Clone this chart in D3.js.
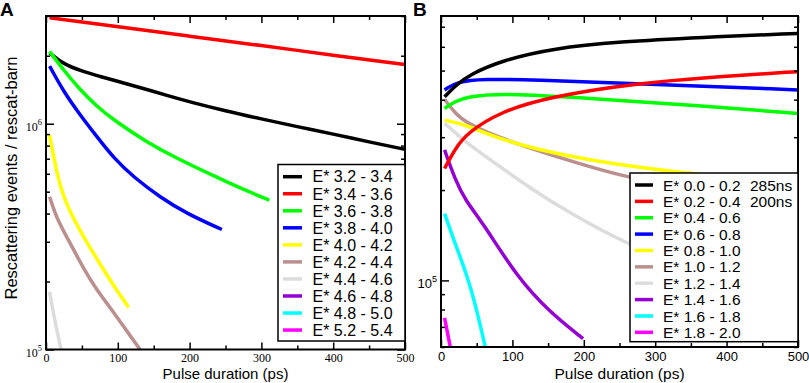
<!DOCTYPE html>
<html>
<head>
<meta charset="utf-8">
<script src="https://cdn.jsdelivr.net/npm/d3@7"></script>
<style>
  body { margin: 0; background: #fff; }
</style>
</head>
<body>
<script>
// ---- data ----
// panel A: pulse duration (ps) vs rescattering events
const a32 = [[5, 2.06e6], [25, 1.83e6], [50, 1.71e6], [75, 1.62e6], [100, 1.54e6], [130, 1.45e6], [170, 1.33e6], [200, 1.25e6], [250, 1.14e6], [300, 1.05e6], [350, 0.97e6], [400, 0.9e6], [450, 0.83e6], [500, 0.77e6]]
const a34 = [[5, 2.95e6], [100, 2.69e6], [200, 2.44e6], [300, 2.22e6], [400, 2.01e6], [500, 1.83e6]]
const a36 = [[5, 2.09e6], [25, 1.72e6], [47, 1.42e6], [70, 1.2e6], [94, 1.04e6], [140, 8.3e5], [180, 7.08e5], [233, 5.89e5], [270, 5.19e5], [311, 4.59e5]]
const a38 = [[5, 1.8e6], [25, 1.38e6], [47, 1.1e6], [68, 9.0e5], [95, 7.0e5], [122, 5.8e5], [160, 4.7e5], [196, 4.0e5], [245, 3.4e5]]
const a40 = [[5, 8.9e5], [12, 6.76e5], [20, 5.25e5], [30, 4.27e5], [52, 3.16e5], [75, 2.4e5], [95, 1.9e5], [115, 1.54e5]]
const a42 = [[5, 4.75e5], [15, 3.8e5], [29, 3.15e5], [52, 2.29e5], [70, 1.85e5], [89, 1.54e5], [110, 1.24e5], [131, 1.0e5]]
const a44 = [[5, 1.8e5], [12, 1.35e5], [21, 1.0e5]]
const a46 = []
const a48 = []
const a52 = []
const seriesA = [a32, a34, a36, a38, a40, a42, a44, a46, a48, a52]
const labelsA = ['E* 3.2 - 3.4', 'E* 3.4 - 3.6', 'E* 3.6 - 3.8', 'E* 3.8 - 4.0', 'E* 4.0 - 4.2', 'E* 4.2 - 4.4', 'E* 4.4 - 4.6', 'E* 4.6 - 4.8', 'E* 4.8 - 5.0', 'E* 5.2 - 5.4']

// panel B
const b00 = [[5, 4.09e5], [20, 4.45e5], [40, 4.85e5], [87, 5.42e5], [157, 5.93e5], [250, 6.24e5], [363, 6.45e5], [500, 6.65e5]]
const b02 = [[5, 2.36e5], [20, 2.75e5], [36, 3.09e5], [83, 3.65e5], [153, 4.09e5], [269, 4.53e5], [400, 4.8e5], [500, 4.96e5]]
const b04 = [[5, 3.74e5], [20, 3.95e5], [36, 4.09e5], [83, 4.2e5], [176, 4.09e5], [316, 3.89e5], [500, 3.6e5]]
const b06 = [[5, 4.31e5], [22, 4.59e5], [59, 4.69e5], [129, 4.66e5], [269, 4.53e5], [500, 4.31e5]]
const b08 = [[5, 3.42e5], [36, 3.3e5], [83, 2.94e5], [176, 2.58e5], [316, 2.3e5], [500, 2.1e5]]
const b10 = [[5, 4.01e5], [20, 3.6e5], [36, 3.34e5], [83, 2.97e5], [176, 2.52e5], [269, 2.16e5], [400, 1.95e5], [500, 1.8e5]]
const b12 = [[5, 3.34e5], [36, 2.86e5], [83, 2.39e5], [129, 2.0e5], [176, 1.7e5], [265, 1.3e5], [350, 1.1e5], [500, 0.88e5]]
const b14 = [[5, 2.72e5], [20, 2.16e5], [34, 1.85e5], [59, 1.55e5], [106, 1.03e5], [153, 7.8e4], [199, 6.4e4]]
const b16 = [[5, 1.67e5], [20, 1.32e5], [36, 1.05e5], [50, 8.0e4], [62, 6.0e4]]
const b18 = [[5, 7.5e4], [13, 6.0e4]]
const seriesB = [b00, b02, b04, b06, b08, b10, b12, b14, b16, b18]
const labelsB = ['E* 0.0 - 0.2', 'E* 0.2 - 0.4', 'E* 0.4 - 0.6', 'E* 0.6 - 0.8', 'E* 0.8 - 1.0', 'E* 1.0 - 1.2', 'E* 1.2 - 1.4', 'E* 1.4 - 1.6', 'E* 1.6 - 1.8', 'E* 1.8 - 2.0']
const notesB = ['285ns', '200ns', '', '', '', '', '', '', '', '']

const colors = ['#000000', '#ff0000', '#00ff00', '#0000ff', '#ffff00', '#bc8f8f', '#dcdcdc', '#9400d3', '#00ffff', '#ff00ff']
const xTicks = [0, 100, 200, 300, 400, 500]
const xMinor = [50, 150, 250, 350, 450]

const sans = 'Liberation Sans, Arial, sans-serif'
const serif = 'Liberation Serif, Times New Roman, serif'

const svg = d3.select('body').append('svg')
  .attr('width', 809)
  .attr('height', 383)

function drawPanel (cfg) {
  const x = d3.scaleLinear().domain([0, 500]).range(cfg.xRange)
  const y = d3.scaleLog().domain(cfg.yDomain).range(cfg.yRange)
  const [x0, x1] = cfg.xRange
  const [y1, y0] = cfg.yRange
  const g = svg.append('g')

  g.append('clipPath').attr('id', 'clip' + cfg.id)
    .append('rect').attr('x', x0).attr('y', y0).attr('width', x1 - x0).attr('height', y1 - y0)

  // curves
  const line = d3.line()
    .x(d => x(d[0]))
    .y(d => y(d[1]))
    .curve(d3.curveBasis)
  const order = cfg.reverse ? d3.range(cfg.series.length).reverse() : d3.range(cfg.series.length)
  g.append('g').attr('clip-path', `url(#clip${cfg.id})`)
    .selectAll('path')
    .data(order)
    .join('path')
    .attr('fill', 'none')
    .attr('stroke', i => colors[i])
    .attr('stroke-width', 3.5)
    .attr('d', i => cfg.series[i].length ? line(cfg.series[i]) : null)

  // ticks (inward, on all four sides)
  const minorY = []
  const [lo, hi] = cfg.yDomain
  for (let e = Math.floor(Math.log10(lo)); e <= Math.ceil(Math.log10(hi)); e++) {
    for (let m = 2; m <= 9; m++) {
      const v = m * Math.pow(10, e)
      if (v >= lo && v <= hi) minorY.push(v)
    }
  }
  const majorY = cfg.yLabels

  const tickStyle = sel => {
    sel.select('.domain').remove()
    sel.selectAll('line').attr('stroke', '#000').attr('stroke-width', 1.5)
  }
  g.append('g').attr('transform', `translate(0,${y1})`)
    .call(d3.axisBottom(x).tickValues(xTicks).tickSize(-7).tickPadding(cfg.xPad))
    .call(tickStyle)
    .call(s => s.selectAll('text').attr('font-family', cfg.tickFont).attr('font-size', cfg.tickSize).attr('fill', '#000'))
  g.append('g').attr('transform', `translate(0,${y1})`)
    .call(d3.axisBottom(x).tickValues(xMinor).tickSize(-4).tickFormat(''))
    .call(tickStyle)
  g.append('g').attr('transform', `translate(0,${y0})`)
    .call(d3.axisTop(x).tickValues(xTicks).tickSize(-7).tickFormat(''))
    .call(tickStyle)
  g.append('g').attr('transform', `translate(0,${y0})`)
    .call(d3.axisTop(x).tickValues(xMinor).tickSize(-4).tickFormat(''))
    .call(tickStyle)
  g.append('g').attr('transform', `translate(${x0},0)`)
    .call(d3.axisLeft(y).tickValues(majorY).tickSize(-8).tickFormat(''))
    .call(tickStyle)
  g.append('g').attr('transform', `translate(${x0},0)`)
    .call(d3.axisLeft(y).tickValues(minorY).tickSize(-4).tickFormat(''))
    .call(tickStyle)
  g.append('g').attr('transform', `translate(${x1},0)`)
    .call(d3.axisRight(y).tickValues(majorY).tickSize(-8).tickFormat(''))
    .call(tickStyle)
  g.append('g').attr('transform', `translate(${x1},0)`)
    .call(d3.axisRight(y).tickValues(minorY).tickSize(-4).tickFormat(''))
    .call(tickStyle)

  // y labels 10^n
  majorY.forEach(v => {
    const t = g.append('text')
      .attr('x', x0 - cfg.yLabelGap)
      .attr('y', y(v) + cfg.yLabelDy)
      .attr('text-anchor', 'end')
      .attr('fill', '#000')
      .attr('font-family', cfg.tickFont)
      .attr('font-size', cfg.tickSize)
    t.append('tspan').text('10')
    t.append('tspan').attr('dy', -6).attr('font-size', cfg.tickSize * 0.7).text(Math.round(Math.log10(v)))
  })

  // frame
  g.append('rect')
    .attr('x', x0).attr('y', y0)
    .attr('width', x1 - x0).attr('height', y1 - y0)
    .attr('fill', 'none').attr('stroke', '#000').attr('stroke-width', 2)

  // x title
  g.append('text')
    .attr('x', (x0 + x1) / 2)
    .attr('y', 379)
    .attr('text-anchor', 'middle')
    .attr('font-family', sans)
    .attr('font-size', cfg.titleSize)
    .text('Pulse duration (ps)')

  // panel letter
  g.append('text')
    .attr('x', cfg.letterX).attr('y', 16)
    .attr('font-family', sans).attr('font-weight', 'bold').attr('font-size', 19)
    .text(cfg.id)

  // legend
  const L = cfg.legend
  const lg = g.append('g')
  lg.append('rect')
    .attr('x', L.x0).attr('y', L.y0)
    .attr('width', x1 - L.x0).attr('height', L.y1 - L.y0)
    .attr('fill', '#fff').attr('stroke', '#000').attr('stroke-width', 1.5)
  cfg.labels.forEach((lab, i) => {
    const ry = L.first + i * L.step
    lg.append('line')
      .attr('x1', L.lx0).attr('x2', L.lx1)
      .attr('y1', ry).attr('y2', ry)
      .attr('stroke', colors[i]).attr('stroke-width', 3.5)
    lg.append('text')
      .attr('x', L.tx).attr('y', ry + L.fontSize * 0.36)
      .attr('font-family', sans).attr('font-size', L.fontSize)
      .text(lab)
    if (cfg.notes && cfg.notes[i]) {
      lg.append('text')
        .attr('x', L.nx).attr('y', ry + L.fontSize * 0.36)
        .attr('font-family', sans).attr('font-size', L.fontSize)
        .text(cfg.notes[i])
    }
  })
}

drawPanel({
  id: 'A',
  xRange: [46, 405],
  yDomain: [1e5, 3e6],
  yRange: [349.5, 16],
  yLabels: [1e5, 1e6],
  series: seriesA,
  labels: labelsA,
  reverse: false,
  tickFont: serif,
  tickSize: 12,
  xPad: 4,
  yLabelGap: 4,
  yLabelDy: 7,
  titleSize: 15,
  letterX: 0,
  legend: { x0: 278, y0: 164.5, y1: 341, first: 176.7, step: 17.04, lx0: 283, lx1: 302, tx: 312.5, nx: 0, fontSize: 16 }
})

drawPanel({
  id: 'B',
  xRange: [441, 798],
  yDomain: [6e4, 7.6e5],
  yRange: [347, 16],
  yLabels: [1e5],
  series: seriesB,
  labels: labelsB,
  notes: notesB,
  reverse: true,
  tickFont: sans,
  tickSize: 13,
  xPad: 4.5,
  yLabelGap: 4,
  yLabelDy: 8,
  titleSize: 15.5,
  letterX: 413,
  legend: { x0: 630, y0: 173, y1: 341.7, first: 185, step: 16.37, lx0: 635, lx1: 653, tx: 663, nx: 750, fontSize: 15.5 }
})

// shared y title
svg.append('text')
  .attr('transform', 'translate(17,178) rotate(-90)')
  .attr('text-anchor', 'middle')
  .attr('font-family', sans)
  .attr('font-size', 16.5)
  .text('Rescattering events / rescat-barn')
</script>
</body>
</html>
